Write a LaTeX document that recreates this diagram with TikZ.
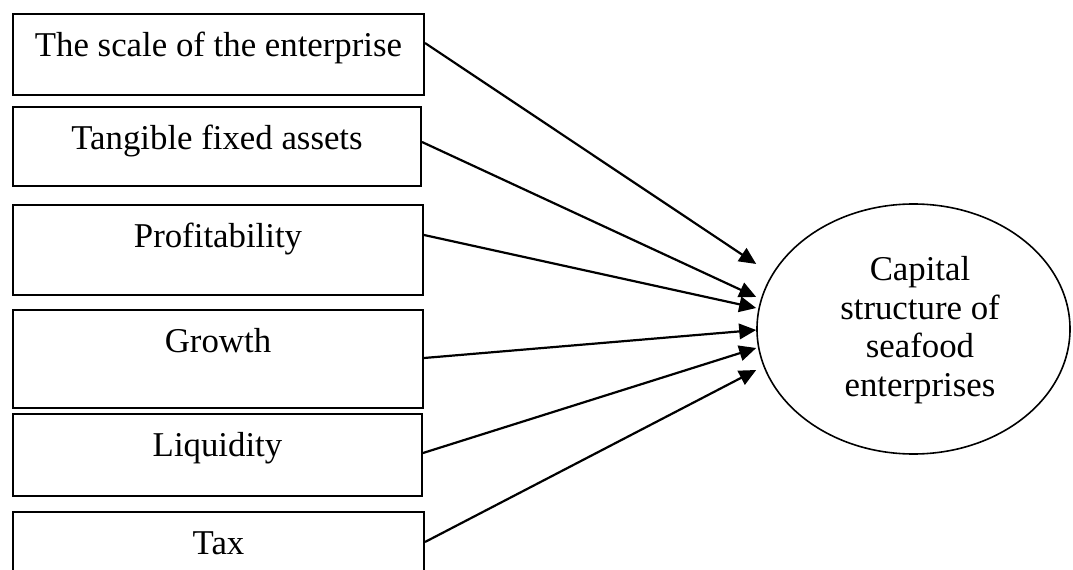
\documentclass[tikz,border=0pt]{standalone}
\usepackage{fontspec}
\setmainfont{Liberation Serif}
\usetikzlibrary{arrows.meta,shapes.geometric}
\begin{document}
\begin{tikzpicture}[x=1bp,y=-1bp,
  bodyfont/.style={font=\fontsize{34.8bp}{38.5bp}\selectfont},
  factor/.style={draw, line width=2bp, inner sep=0pt, anchor=north west,
    text height=42.5bp, bodyfont},
  outcome/.style={draw, ellipse, line width=1.6bp, inner sep=0pt,
    minimum width=313bp, minimum height=250bp},
  link/.style={line width=2.2bp, -{Triangle[length=17bp,width=15.5bp]}}]
\useasboundingbox (0,0) rectangle (1073,570);
\clip (0,0) rectangle (1073,570);

% influencing factors
\node[factor, minimum width=411bp, text depth=38.5bp] (scale) at (12,13) {The scale of the enterprise};
\node[factor, minimum width=408bp, text depth=36.5bp] (tangible) at (12,106) {Tangible fixed assets};
\node[factor, minimum width=410bp, text depth=47.5bp] (profit) at (12,204) {Profitability};
\node[factor, minimum width=410bp, text depth=55.5bp] (growth) at (12,309) {Growth};
\node[factor, minimum width=409bp, text depth=39.5bp] (liquid) at (12,413) {Liquidity};
\node[factor, minimum width=411bp, text depth=60bp] (tax) at (12,511) {Tax};

% dependent variable
\node[outcome] (cap) at (913.5,329) {};
\node[bodyfont, align=center, inner sep=0pt, anchor=north] (captext) at (920,256.5)
  {Capital\\structure of\\seafood\\enterprises};

% arrows from each factor to the capital structure
\draw[link] ([yshift=-30bp]scale.north east) -- ([yshift=65bp]cap.west);
\draw[link] ([yshift=-36bp]tangible.north east) -- ([yshift=32bp]cap.west);
\draw[link] ([yshift=-31bp]profit.north east) -- ([yshift=21bp]cap.west);
\draw[link] ([yshift=-49bp]growth.north east) -- ([yshift=-1bp]cap.west);
\draw[link] ([yshift=-40bp]liquid.north east) -- ([yshift=-19bp]cap.west);
\draw[link] ([yshift=-31bp]tax.north east) -- ([yshift=-41bp]cap.west);
\end{tikzpicture}
\end{document}
